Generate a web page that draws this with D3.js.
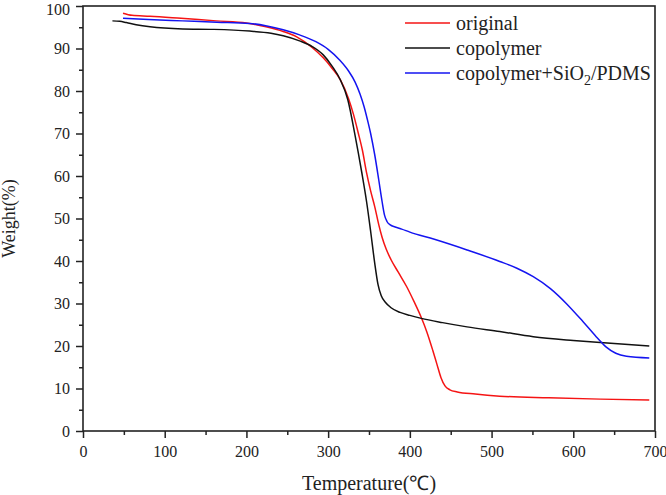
<!DOCTYPE html>
<html><head><meta charset="utf-8">
<script src="https://cdn.jsdelivr.net/npm/d3@7"></script>
<style>
html,body{margin:0;padding:0;background:#fff;}
svg{display:block;}
</style>
</head><body>
<svg id="chart" width="666" height="495"></svg>
<script>
// Data (Temperature °C, Weight %)
const seriesNames = ["original", "copolymer", "copolymer+SiO2/PDMS"];
const seriesColors = ["#f51414", "#111111", "#1414f0"];
const original = [[49,98.3],[60,97.8],[82,97.6],[120,97.1],[163,96.5],[200,96.0],[224,95.1],[245,94.0],[261,92.8],[280,90.3],[294,87.8],[305,85.3],[315,82.6],[325,78.2],[331,74.5],[337,70],[342,66],[347,60.8],[352,56.5],[357,52.8],[362,48.5],[366,45.6],[371,42.8],[377,40.3],[386,37.3],[396,34],[405,30.5],[414,26.7],[421,23.2],[428,19],[433,15.8],[438,12.6],[443,10.6],[449,9.7],[458,9.2],[480,8.7],[510,8.2],[570,7.8],[633,7.5],[693,7.3]];
const copolymer = [[36,96.5],[45,96.4],[53,96.1],[65,95.6],[82,95.1],[122,94.6],[160,94.5],[204,94.1],[230,93.6],[245,93.0],[265,91.8],[281,90.4],[294,88.5],[305,85.8],[315,82.6],[324,78],[333,69.5],[341,61],[347,54],[352,47],[357,39.5],[361,34.5],[365,31.8],[370,30.3],[377,29.0],[388,27.9],[400,27.2],[414,26.5],[440,25.5],[470,24.5],[510,23.4],[551,22.2],[600,21.3],[633,20.8],[693,20.0]];
const composite = [[49,97.1],[80,96.8],[122,96.5],[164,96.2],[204,95.9],[225,95.3],[245,94.4],[265,93.2],[285,91.6],[300,89.8],[314,87.3],[325,84.7],[333,82.1],[339,79.3],[344,76.3],[348,73.3],[352,70],[357,65],[362,59],[366,54],[369,50.8],[372,49.3],[376,48.5],[382,48.0],[390,47.5],[400,46.8],[430,45.1],[470,42.6],[510,39.9],[531,38.3],[551,36.3],[572,33.5],[592,29.9],[612,25.7],[628,22.2],[640,19.8],[652,18.3],[665,17.6],[693,17.2]];
const xTicks = [0,100,200,300,400,500,600,700];
const yTicks = [0,10,20,30,40,50,60,70,80,90,100];
const xMinor = [50,150,250,350,450,550,650];
const yMinor = [5,15,25,35,45,55,65,75,85,95];

const svg = d3.select("#chart");
const L = 83, R = 655, T = 6, B = 431;
const x = d3.scaleLinear().domain([0,700]).range([L,R]);
const y = d3.scaleLinear().domain([0,100]).range([B,T]);
const font = "'Liberation Serif','Times New Roman',serif";
const axisColor = "#222";

// series lines
const line = d3.line().x(d=>x(d[0])).y(d=>y(d[1])).curve(d3.curveMonotoneX);
[original, copolymer, composite].forEach((s,i)=>{
  svg.append("path").datum(s).attr("d", line)
    .attr("fill","none").attr("stroke", seriesColors[i]).attr("stroke-width",1.5);
});

// frame
svg.append("rect").attr("x",L).attr("y",T).attr("width",R-L).attr("height",B-T)
  .attr("fill","none").attr("stroke",axisColor).attr("stroke-width",1.6);

// x axis
const xAxis = svg.append("g").attr("transform",`translate(0,${B})`)
  .call(d3.axisBottom(x).tickValues(xTicks).tickSize(7).tickPadding(8).tickFormat(d3.format("d")));
const xAxisMinor = svg.append("g").attr("transform",`translate(0,${B})`)
  .call(d3.axisBottom(x).tickValues(xMinor).tickSize(4).tickFormat(""));
// y axis
const yAxis = svg.append("g").attr("transform",`translate(${L},0)`)
  .call(d3.axisLeft(y).tickValues(yTicks).tickSize(7).tickPadding(6).tickFormat(d3.format("d")));
const yAxisMinor = svg.append("g").attr("transform",`translate(${L},0)`)
  .call(d3.axisLeft(y).tickValues(yMinor).tickSize(4).tickFormat(""));
[xAxis,xAxisMinor,yAxis,yAxisMinor].forEach(g=>{
  g.select(".domain").remove();
  g.selectAll("line").attr("stroke",axisColor).attr("stroke-width",1.5);
  g.selectAll("text").attr("font-family",font).attr("font-size",16).attr("fill","#222");
});
// keep the top label inside the picture
yAxis.selectAll(".tick").filter(d=>d===100).select("text").attr("dy","0.5em");

// axis titles
svg.append("text").attr("x",(L+R)/2).attr("y",490).attr("text-anchor","middle")
  .attr("font-family",font).attr("font-size",20).attr("fill","#222").text("Temperature(℃)");
svg.append("text").attr("transform",`translate(15,${(T+B)/2}) rotate(-90)`).attr("text-anchor","middle")
  .attr("font-family",font).attr("font-size",18).attr("fill","#222").text("Weight(%)");

// legend
const legY = [23,48,73];
seriesNames.forEach((n,i)=>{
  svg.append("line").attr("x1",405).attr("x2",450).attr("y1",legY[i]).attr("y2",legY[i])
    .attr("stroke",seriesColors[i]).attr("stroke-width",1.5);
  const t = svg.append("text").attr("x",456).attr("y",legY[i]+7)
    .attr("font-family",font).attr("font-size",20).attr("fill","#222");
  if (n.includes("SiO2")) {
    t.append("tspan").text("copolymer+SiO");
    t.append("tspan").attr("font-size",14).attr("dy",5).text("2");
    t.append("tspan").attr("dy",-5).text("/PDMS");
  } else t.text(n);
});
</script>
</body></html>
